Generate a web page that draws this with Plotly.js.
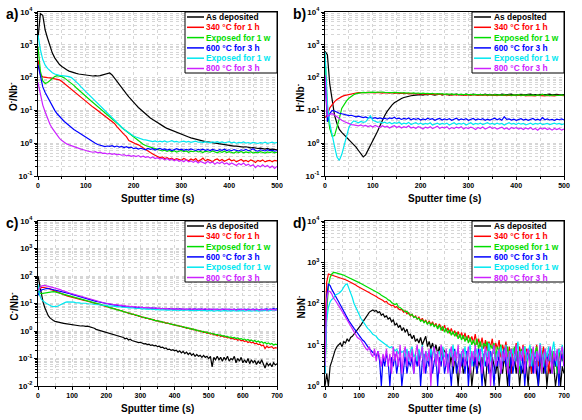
<!DOCTYPE html>
<html>
<head>
<meta charset="utf-8">
<script src="https://cdn.plot.ly/plotly-3.0.1.min.js"></script>
<style>
  html, body { margin: 0; padding: 0; background: #ffffff; }
  #chart { width: 582px; height: 420px; }
</style>
</head>
<body>
<div id="chart"></div>
<script>
// Sputter time axes (s)
const tAB = [0,5,10,15,20,25,30,35,40,45,
  50,55,60,65,70,75,80,85,90,95,
  100,105,110,115,120,125,130,135,140,145,
  150,155,160,165,170,175,180,185,190,195,
  200,205,210,215,220,225,230,235,240,245,
  250,255,260,265,270,275,280,285,290,295,
  300,305,310,315,320,325,330,335,340,345,
  350,355,360,365,370,375,380,385,390,395,
  400,405,410,415,420,425,430,435,440,445,
  450,455,460,465,470,475,480,485,490,495,
  500];
const tCD = [0,5,10,15,20,25,30,35,40,45,
  50,55,60,65,70,75,80,85,90,95,
  100,105,110,115,120,125,130,135,140,145,
  150,155,160,165,170,175,180,185,190,195,
  200,205,210,215,220,225,230,235,240,245,
  250,255,260,265,270,275,280,285,290,295,
  300,305,310,315,320,325,330,335,340,345,
  350,355,360,365,370,375,380,385,390,395,
  400,405,410,415,420,425,430,435,440,445,
  450,455,460,465,470,475,480,485,490,495,
  500,505,510,515,520,525,530,535,540,545,
  550,555,560,565,570,575,580,585,590,595,
  600,605,610,615,620,625,630,635,640,645,
  650,655,660,665,670,675,680,685,690,695,
  700];

// Sample labels
const labelsA = ['As deposited', '340 °C for 1 h', 'Exposed for 1 w', '600 °C for 3 h', 'Exposed for 1 w', '800 °C for 3 h'];
const labelsB = ['As deposlted', '340 °C for 1 h', 'Exposed for 1 w', '600 °C for 3 h', 'Exposed for 1 w', '800 °C for 3 h'];
const seriesColors = ['#000000', '#ff0000', '#00dd00', '#0000ff', '#00e8f0', '#cc22ff'];

// a) O-/Nb-
const oAsDep = [1580,8900,7900,2820,1580,890,560,400,316,251,
  219,191,174,158,148,141,135,129,126,120,
  117,115,115,112,115,112,115,120,126,132,
  138,120,95,76,60,49,40,32,26,22,
  18.2,14.8,12.3,10.5,8.9,7.6,6.6,5.9,5.25,4.68,
  4.17,3.8,3.39,3.09,2.82,2.63,2.4,2.24,2.09,1.95,
  1.82,1.74,1.62,1.55,1.45,1.38,1.32,1.26,1.23,1.17,
  1.12,1.10,1.07,1.02,1.0,0.98,0.93,0.91,0.89,0.89,
  0.85,0.85,0.81,0.81,0.79,0.79,0.76,0.78,0.74,0.72,
  0.74,0.71,0.69,0.71,0.68,0.66,0.69,0.65,0.66,0.63,
  0.63];
const o340 = [347,126,105,100,100,98,95,91,89,85,
  76,66,58,49,44,38,33,28,24.5,21.9,
  19.1,16.2,14.1,12.6,11.2,9.8,8.9,7.9,6.9,5.9,
  5.1,4.6,4.0,3.2,2.6,2.2,1.86,1.58,1.2,1.12,
  1.0,0.95,0.89,0.79,0.71,0.63,0.58,0.52,0.47,0.43,
  0.39,0.36,0.38,0.34,0.36,0.33,0.35,0.31,0.34,0.32,
  0.30,0.34,0.31,0.29,0.33,0.30,0.34,0.28,0.31,0.35,
  0.29,0.32,0.30,0.27,0.31,0.33,0.29,0.32,0.28,0.30,
  0.33,0.29,0.31,0.27,0.30,0.32,0.28,0.30,0.27,0.31,
  0.29,0.26,0.30,0.28,0.31,0.27,0.29,0.30,0.27,0.30,
  0.29];
const oExp1 = [870,158,79,66,71,83,95,107,115,112,
  107,98,87,76,66,58,49,42,35,30,
  26,23,20,17.4,15.1,13.2,11.5,10.0,8.7,7.4,
  6.5,5.5,4.8,4.1,3.55,3.0,2.63,2.29,2.0,1.74,
  1.51,1.32,1.17,1.05,0.93,0.85,0.79,0.76,0.72,0.69,
  0.66,0.62,0.58,0.61,0.56,0.6,0.55,0.59,0.54,0.57,
  0.6,0.55,0.58,0.53,0.57,0.55,0.59,0.54,0.56,0.52,
  0.57,0.55,0.53,0.58,0.54,0.51,0.56,0.53,0.57,0.52,
  0.55,0.53,0.5,0.55,0.52,0.56,0.51,0.54,0.52,0.55,
  0.5,0.53,0.51,0.55,0.52,0.5,0.54,0.52,0.55,0.51,
  0.53];
const o600 = [250,100,52,35,25,17.8,13.2,10.0,7.9,6.5,
  5.4,4.6,4.0,3.4,2.95,2.63,2.34,2.09,1.86,1.66,
  1.48,1.32,1.2,1.1,1.0,0.91,0.87,0.83,0.79,0.82,
  0.8,0.84,0.78,0.82,0.76,0.8,0.74,0.78,0.72,0.76,
  0.68,0.72,0.66,0.7,0.67,0.63,0.69,0.65,0.68,0.62,
  0.66,0.7,0.64,0.67,0.62,0.66,0.6,0.65,0.68,0.63,
  0.66,0.61,0.65,0.62,0.67,0.63,0.6,0.65,0.62,0.66,
  0.61,0.64,0.6,0.65,0.62,0.59,0.64,0.61,0.66,0.6,
  0.63,0.59,0.64,0.61,0.58,0.63,0.6,0.65,0.59,0.62,
  0.68,0.6,0.57,0.63,0.6,0.58,0.63,0.59,0.61,0.57,
  0.6];
const oExp2 = [2000,710,355,240,191,158,141,129,120,117,
  115,112,112,107,100,87,74,63,52,44,
  36,31,27,23,19.5,16.6,14.1,11.7,9.8,8.3,
  7.1,6.0,5.0,4.2,3.55,3.0,2.63,2.34,2.04,1.82,
  1.66,1.55,1.45,1.35,1.29,1.26,1.23,1.2,1.12,1.18,
  1.09,1.15,1.1,1.17,1.08,1.13,1.19,1.1,1.14,1.07,
  1.12,1.16,1.08,1.13,1.06,1.11,1.15,1.07,1.1,1.05,
  1.12,1.08,1.03,1.1,1.06,1.12,1.04,1.09,1.02,1.07,
  1.11,1.03,1.08,1.0,1.06,1.02,1.09,1.01,1.05,0.99,
  1.06,1.02,0.98,1.04,1.0,1.07,0.99,1.03,1.08,1.01,
  1.05];
const o800 = [71,28,14.5,8.9,5.6,3.8,2.82,2.19,1.74,1.41,
  1.2,1.05,0.95,0.89,0.83,0.79,0.74,0.71,0.66,0.63,
  0.59,0.57,0.55,0.53,0.55,0.51,0.53,0.49,0.5,0.47,
  0.49,0.46,0.48,0.44,0.46,0.43,0.45,0.41,0.43,0.4,
  0.42,0.39,0.42,0.38,0.4,0.37,0.39,0.35,0.38,0.34,
  0.36,0.33,0.35,0.31,0.34,0.3,0.33,0.29,0.32,0.28,
  0.3,0.27,0.31,0.27,0.29,0.26,0.29,0.25,0.28,0.26,
  0.24,0.28,0.25,0.27,0.23,0.26,0.24,0.27,0.23,0.25,
  0.22,0.25,0.23,0.21,0.24,0.22,0.25,0.21,0.23,0.2,
  0.22,0.18,0.21,0.19,0.22,0.19,0.21,0.18,0.2,0.17,
  0.2];

// b) H-/Nb-
const hAsDep = [630,500,63,17.8,7.1,4.0,2.63,2.14,1.82,1.51,
  1.32,1.12,0.93,0.76,0.6,0.48,0.38,0.44,0.6,0.89,
  1.2,1.6,2.3,3.4,5.0,7.0,9.3,11.8,14.5,17.0,
  19.0,21.2,23.0,24.8,26.2,27.3,28.0,28.8,29.3,29.5,
  30.2,29.2,30.9,29.8,31.2,30.0,29.1,30.6,31.5,29.6,
  30.4,31.0,29.4,30.8,30.1,31.6,29.9,30.5,29.3,31.1,
  30.3,29.7,31.4,30.2,29.5,30.9,30.0,31.3,29.8,30.6,
  29.4,31.0,30.2,29.6,31.5,30.1,29.7,30.8,31.2,29.5,
  30.4,29.9,31.1,30.3,29.6,30.7,31.4,29.8,30.5,29.3,
  31.0,30.2,29.9,30.8,31.3,29.7,30.4,31.0,29.6,30.5,
  30.1];
const h340 = [6.0,7.2,12.0,15.5,18.6,21.4,24.0,26.3,28.2,29.5,
  30.9,32.0,33.0,33.9,34.7,34.2,35.5,34.8,35.6,34.5,
  35.2,34.1,35.4,34.6,33.8,35.0,34.2,33.5,34.6,33.2,
  34.0,32.8,33.6,32.4,33.3,32.0,32.9,31.8,32.7,31.5,
  32.4,31.2,32.0,30.8,31.9,30.6,31.5,30.2,31.4,29.9,
  31.0,29.6,30.8,29.4,30.6,29.2,30.5,29.0,30.3,28.9,
  30.1,28.8,30.0,29.1,28.5,29.8,28.7,29.6,28.4,29.5,
  28.6,29.3,28.2,29.4,28.5,29.2,28.0,29.3,28.4,29.1,
  28.1,29.0,28.3,29.2,27.9,28.8,28.2,29.1,27.8,28.9,
  28.1,28.7,27.7,28.8,28.0,28.6,27.6,28.7,27.9,28.5,
  28.2];
const hExp1 = [500,10,2.8,1.62,1.7,3.0,5.6,11.5,15.5,19.5,
  23.4,27.5,30.2,32.4,33.9,34.7,35.5,35.0,36.0,35.2,
  36.3,35.5,36.0,35.1,36.4,35.4,34.7,35.8,34.9,35.6,
  34.6,35.2,34.0,34.8,33.7,34.5,33.3,34.2,33.0,33.9,
  32.6,33.5,32.3,33.2,31.9,32.8,31.6,32.6,31.4,32.3,
  31.0,32.0,30.7,31.8,30.5,31.6,30.2,31.4,30.0,31.2,
  29.8,30.9,29.6,30.8,29.5,30.6,29.3,30.5,29.2,30.4,
  29.0,30.3,29.1,30.2,28.9,30.1,29.0,30.0,28.8,29.9,
  28.7,30.4,28.9,29.7,28.6,29.8,28.8,29.6,28.5,29.8,
  28.7,31.0,28.6,29.7,28.4,29.5,28.8,29.4,28.5,29.6,
  29.0];
const h600 = [100,4.5,8.0,10.0,9.6,8.7,8.2,7.9,7.5,7.2,
  6.9,7.1,6.6,6.4,6.7,6.2,6.0,6.3,5.8,6.1,
  5.7,6.0,5.6,5.9,5.5,5.8,5.4,5.9,5.6,6.2,
  5.5,5.8,5.3,5.7,5.4,5.9,5.2,5.6,5.3,5.7,
  5.1,5.5,5.2,5.8,5.3,5.6,5.0,5.4,5.7,5.1,
  5.5,5.2,5.6,5.0,5.4,5.8,5.1,5.5,5.2,5.6,
  5.0,5.4,5.7,5.1,5.5,5.2,5.6,5.0,5.4,5.1,
  5.5,5.8,5.2,5.6,5.0,6.4,5.3,5.5,5.1,5.4,
  5.0,5.3,5.6,5.1,5.4,5.0,5.3,5.7,5.1,5.4,
  5.0,6.0,5.2,5.5,5.1,5.3,5.0,5.4,5.2,5.5,
  5.1];
const hExp2 = [600,16,4.0,1.6,0.8,0.38,0.3,0.45,0.9,1.8,
  3.0,4.0,4.8,4.5,4.2,4.6,4.3,4.5,5.5,6.8,
  5.0,4.6,4.3,4.5,4.1,4.4,4.0,4.3,3.9,4.2,
  4.0,4.4,3.8,4.1,3.9,4.3,3.7,4.0,4.2,3.8,
  4.1,3.7,4.0,3.8,4.2,3.6,3.9,4.1,3.7,4.0,
  3.8,4.1,3.6,3.9,4.2,3.7,4.0,3.8,4.1,3.6,
  3.9,4.2,3.7,4.0,3.8,4.1,3.7,3.9,4.2,3.8,
  4.0,3.7,4.1,3.8,4.0,3.6,3.9,4.2,3.8,4.0,
  3.7,4.1,3.8,4.0,3.6,3.9,4.1,3.7,4.0,3.8,
  4.1,3.7,3.9,4.0,3.7,3.9,4.1,3.8,4.0,3.7,
  3.9];
const h800 = [120,6.5,7.5,7.9,7.2,6.3,5.6,5.0,4.6,4.2,
  3.9,3.7,3.6,3.5,3.4,3.6,3.3,3.5,3.2,3.4,
  3.1,3.5,3.3,3.0,3.4,3.1,3.3,2.9,3.2,3.4,
  3.0,3.3,2.9,3.2,3.0,3.4,2.9,3.1,2.8,3.2,
  3.0,2.7,3.1,2.9,3.2,2.8,3.0,3.3,2.8,3.1,
  2.9,3.2,2.7,3.0,2.8,3.1,2.9,3.2,2.7,3.0,
  2.8,3.1,2.9,2.6,3.0,2.8,3.1,2.7,2.9,3.2,
  2.8,3.0,2.7,2.9,3.1,2.7,2.9,2.6,3.0,2.8,
  3.0,2.7,2.9,2.6,2.9,2.7,3.0,2.6,2.8,2.5,
  2.9,2.7,2.9,2.6,2.8,2.5,2.8,2.6,2.8,2.5,
  2.7];

// c) C-/Nb-
const cAsDep = [100,45,20,11,7.0,4.8,3.6,3.0,2.6,2.4,
  2.25,2.15,2.1,2.0,1.95,1.9,1.86,1.82,1.76,1.72,
  1.66,1.62,1.6,1.56,1.58,1.52,1.55,1.5,1.48,1.5,
  1.45,1.38,1.32,1.26,1.15,1.1,1.06,1.02,0.98,0.95,
  0.93,0.88,0.85,0.8,0.78,0.73,0.71,0.66,0.65,0.6,
  0.58,0.52,0.55,0.47,0.5,0.45,0.43,0.41,0.4,0.38,
  0.39,0.36,0.34,0.35,0.32,0.33,0.3,0.31,0.29,0.3,
  0.27,0.28,0.25,0.26,0.23,0.24,0.21,0.22,0.2,0.21,
  0.19,0.2,0.17,0.19,0.16,0.18,0.15,0.17,0.14,0.16,
  0.13,0.15,0.12,0.14,0.12,0.13,0.11,0.13,0.11,0.12,
  0.1,0.12,0.05,0.11,0.09,0.12,0.09,0.11,0.08,0.11,
  0.09,0.12,0.08,0.1,0.09,0.12,0.07,0.1,0.08,0.11,
  0.07,0.09,0.07,0.1,0.065,0.09,0.07,0.085,0.06,0.08,
  0.065,0.09,0.06,0.045,0.07,0.055,0.065,0.05,0.07,0.058,
  0.065];
const c340 = [32,36,38,39,38,37,36,34,32,30,
  28,26.5,25,23.5,22,21,20,19,18.2,17.4,
  17.0,16.2,15.8,15.0,14.8,14.1,13.5,13.0,12.6,12.1,
  11.7,11.3,11.0,10.6,10.2,9.8,9.3,9.0,8.7,8.3,
  8.0,7.5,7.3,6.8,6.7,6.2,6.1,5.7,5.7,5.3,
  5.2,4.8,4.8,4.4,4.5,4.0,4.1,3.7,3.8,3.4,
  3.5,3.1,3.2,2.9,2.95,2.72,2.75,2.52,2.58,2.33,
  2.4,2.2,2.24,2.04,2.1,1.9,1.96,1.8,1.83,1.67,
  1.71,1.56,1.6,1.46,1.5,1.35,1.39,1.26,1.3,1.17,
  1.21,1.1,1.14,1.01,1.06,0.95,0.99,0.88,0.92,0.83,
  0.86,0.77,0.81,0.72,0.75,0.67,0.7,0.64,0.66,0.6,
  0.62,0.56,0.58,0.53,0.55,0.5,0.52,0.46,0.49,0.44,
  0.46,0.41,0.44,0.38,0.41,0.37,0.39,0.34,0.36,0.32,
  0.33,0.29,0.31,0.23,0.28,0.25,0.26,0.27,0.23,0.25,
  0.24];
const cExp1 = [28,24,23,23.5,24,25,26,26.5,27,27,
  26.5,25.5,24.5,23.5,22.3,21.2,20.2,19.3,18.5,17.8,
  17.1,16.5,15.7,15.2,14.6,14.2,13.6,13.2,12.5,12.2,
  11.6,11.4,10.9,10.7,10.1,9.9,9.4,9.1,8.6,8.4,
  7.8,7.7,7.1,7.0,6.5,6.4,5.9,5.9,5.5,5.5,
  5.0,5.0,4.6,4.6,4.3,4.2,3.9,3.9,3.6,3.6,
  3.3,3.3,3.05,3.05,2.85,2.85,2.65,2.65,2.45,2.45,
  2.3,2.3,2.15,2.15,2.0,2.0,1.88,1.88,1.75,1.76,
  1.63,1.65,1.52,1.55,1.43,1.45,1.33,1.36,1.24,1.27,
  1.15,1.19,1.08,1.1,1.0,1.04,0.94,0.97,0.88,0.92,
  0.82,0.86,0.78,0.8,0.73,0.76,0.69,0.72,0.65,0.68,
  0.62,0.64,0.58,0.61,0.56,0.58,0.53,0.56,0.51,0.53,
  0.49,0.51,0.46,0.49,0.44,0.47,0.42,0.45,0.4,0.43,
  0.38,0.41,0.36,0.39,0.34,0.37,0.33,0.35,0.31,0.33,
  0.32];
const c600 = [20,27,31,33,34,35,35,34,33,32,
  31,30,29,28,27,26,25,24.5,23.5,22.5,
  21.5,21,20,19,18.2,17.5,16.8,16.0,15.3,14.8,
  14.0,13.6,13.0,12.5,12.0,11.6,11.2,10.8,10.5,10.1,
  9.9,9.6,9.4,9.1,8.9,8.8,8.5,8.3,8.2,8.0,
  7.9,7.7,7.8,7.5,7.4,7.6,7.2,7.4,7.1,7.3,
  7.0,7.2,6.9,7.1,6.8,7.0,6.7,6.9,6.6,6.8,
  6.5,6.7,6.4,6.6,6.3,6.5,6.3,6.5,6.2,6.4,
  6.1,6.4,6.2,6.5,6.1,6.3,6.0,6.3,6.1,6.4,
  6.0,6.2,6.4,6.0,6.3,6.1,6.4,5.9,6.2,6.0,
  6.3,6.1,5.9,6.3,6.0,6.2,5.9,6.1,6.3,5.9,
  6.2,6.0,6.3,5.9,6.1,6.3,5.9,6.2,6.0,6.2,
  5.9,6.3,6.0,6.2,5.9,6.1,6.3,6.0,6.2,5.9,
  6.1,6.3,6.0,6.2,6.4,6.0,6.3,6.1,6.6,6.2,
  6.5];
const cExp2 = [50,20,14,12,11,10,9.2,8.5,8.0,7.7,
  7.6,7.8,8.3,9.0,9.8,10.5,11.0,11.4,11.5,11.2,
  11.0,11.2,10.8,10.9,10.6,10.4,10.5,10.1,10.2,9.8,
  9.9,9.5,9.6,9.2,9.3,9.0,9.0,8.7,8.8,8.5,
  8.5,8.2,8.3,8.0,8.0,7.8,7.8,7.5,7.6,7.3,
  7.4,7.1,7.2,6.9,7.0,6.8,6.9,6.6,6.7,6.5,
  6.6,6.3,6.5,6.2,6.4,6.1,6.3,6.0,6.2,5.9,
  6.1,5.9,6.0,5.8,6.0,5.7,5.9,5.7,5.9,5.6,
  5.8,5.6,5.8,5.5,5.8,5.6,5.7,5.5,5.8,5.5,
  5.7,5.4,5.7,5.5,5.6,5.4,5.7,5.5,5.6,5.3,
  5.6,5.4,5.6,5.3,5.5,5.4,5.6,5.3,5.5,5.4,
  5.6,5.3,5.5,5.3,5.6,5.4,5.5,5.3,5.5,5.4,
  5.6,5.3,5.5,5.4,5.6,5.3,5.5,5.4,5.6,5.3,
  5.5,5.4,5.6,5.5,5.7,5.4,5.6,5.5,5.8,5.6,
  5.9];
const c800 = [30,38,43,45,46,44,43,41,39,38,
  36,35,33,32,30,29,27,26,24.5,23.5,
  22.5,21.5,20.5,19.5,18.5,18.0,17.0,16.2,15.5,15.0,
  14.3,13.8,13.2,12.8,12.2,11.8,11.5,11.0,10.7,10.4,
  10.2,9.9,10.0,9.5,9.3,9.0,9.1,8.7,8.5,8.7,
  8.2,8.3,7.9,8.1,7.7,7.9,7.5,7.7,7.3,7.6,
  7.2,7.4,7.0,7.3,6.9,7.2,6.8,7.0,6.6,6.9,
  6.5,6.8,6.4,6.7,6.3,6.6,6.4,6.2,6.6,6.3,
  6.5,6.1,6.4,6.2,6.5,6.1,6.4,6.0,6.3,6.5,
  6.1,6.4,6.0,6.3,6.1,6.4,6.0,6.2,6.5,6.0,
  6.3,6.1,6.4,5.9,6.2,6.0,6.3,5.9,6.2,6.4,
  6.0,6.2,5.9,6.3,6.0,6.2,5.8,6.1,6.3,5.9,
  6.2,6.0,5.8,6.1,6.3,5.9,6.1,5.8,6.2,6.0,
  5.8,6.1,5.9,6.2,5.8,6.0,6.2,5.9,6.1,5.8,
  6.0];

// d) NbN-
const nAsDep = [1,2,1,3,4,6,7.5,9,10,11,
  9,12,11,14,12,15,16,18,21,24,
  27,30,35,40,47,55,62,66,70,65,
  68,60,63,52,56,47,50,42,45,36,
  40,30,33,26,30,22,26,20,24,17,
  18,14,17,12,14,11,15,10,13,16,
  9,12,8,11,7,10,6,9,5,8,
  7,6,4,3,6,2,5,3,1,4,
  6,2,3,5,2,4,1,3,6,2,
  4,3,5,2,1,4,3,2,5,3,
  2,4,1,3,2,5,3,1,4,2,
  3,5,2,4,1,3,2,4,3,1,
  5,2,3,4,2,1,3,5,2,4,
  1,3,2,4,3,1,2,4,1,3,
  2];
const n340 = [25,330,520,505,490,478,465,452,440,425,
  410,392,378,360,345,325,312,295,280,262,
  250,240,228,215,205,192,182,172,165,155,
  148,138,132,122,118,108,112,98,95,88,
  92,80,84,74,70,72,62,66,56,60,
  50,55,46,50,42,47,38,44,35,40,
  32,38,30,36,28,33,25,32,27,22,
  30,21,26,19,25,18,22,16,21,15,
  20,14,19,13,17,12,16,11,18,10,
  14,9,15,8,13,7,12,9,14,6,
  11,8,13,5,10,7,12,4,9,2,
  8,6,11,3,9,5,10,4,8,6,
  9,2,7,5,10,3,7,5,9,3,
  6,2,8,4,7,3,6,8,4,6,
  5];
const nExp1 = [2,60,260,430,520,565,560,550,535,520,
  500,485,465,447,430,410,392,372,352,338,
  320,305,290,275,262,250,238,225,212,200,
  195,180,172,158,150,138,135,122,118,106,
  100,94,100,82,80,72,68,63,65,56,
  52,55,46,48,42,44,37,40,34,38,
  31,36,29,33,27,31,24,30,22,28,
  20,25,19,23,17,21,16,20,14,18,
  13,17,12,16,11,15,10,13,9,14,
  8,12,7,11,9,12,6,10,8,11,
  5,9,7,10,4,8,6,9,3,8,
  6,9,4,7,2,8,5,9,3,7,
  5,8,3,6,9,4,7,2,6,8,
  3,6,4,7,3,6,2,5,7,4,
  6];
const n600 = [2,150,300,270,220,180,150,130,110,91,
  80,68,55,44,38,33,28,25,22,19,
  17,14.5,13,12,10,9,8,7,6.5,6,
  5,7,4,1,5,3,6,4,1,5,
  3,6,2,4,5,1,3,6,2,4,
  3,5,2,5,3,7,1,4,6,2,
  5,3,8,2,4,6,1,5,3,7,
  2,4,6,3,1,5,8,2,4,6,
  3,5,2,7,1,4,6,3,5,2,
  8,4,1,6,3,5,2,7,4,1,
  5,3,6,2,4,8,3,5,1,6,
  2,4,7,3,5,2,6,1,4,8,
  3,5,2,6,4,1,7,3,5,2,
  6,4,8,2,5,3,7,1,4,6,
  3];
const nExp2 = [2,40,80,110,125,135,160,165,175,190,
  210,250,285,300,240,180,140,100,80,65,
  50,44,38,33,28,25,23,20,18,17,
  16,14,13,12,11,10.5,10,9,8.5,9,
  8.3,7,8,6,7.5,6.5,7,5,8,4,
  7,9,5,6,4,8,5,10,3,7,
  6,4,8,5,9,3,6,7,4,9,
  5,6,3,8,5,10,4,6,8,3,
  7,5,9,4,6,10,3,7,5,8,
  4,6,9,3,7,5,11,4,6,8,
  3,7,5,9,4,6,10,3,7,5,
  8,4,6,12,3,7,5,9,4,6,
  10,3,8,5,7,4,11,6,3,8,
  5,9,4,7,12,5,3,8,6,10,
  5];
const n800 = [3,130,200,195,170,135,120,105,88,76,
  65,55,46,40,33,28,24,21,18,15,
  14,13,11,9,8,7.4,9,6,5.1,8,
  4,7,5,3,6,4,8,3,6,2,
  9,4,7,3,10,2,6,9,3,7,
  4,8,2,6,10,3,5,9,2,7,
  4,8,1,6,9,3,7,2,10,5,
  3,8,2,6,9,3,7,4,10,2,
  6,8,3,5,9,2,7,4,10,3,
  6,8,2,5,9,3,7,1,6,10,
  3,5,8,2,7,4,9,2,6,8,
  3,5,10,2,7,4,9,2,6,8,
  3,5,9,2,7,4,10,2,6,8,
  3,5,9,2,7,4,8,2,6,9,
  3];

const FONT = 'Arial, "Liberation Sans", Helvetica, sans-serif';
const W = 582, H = 420;
const px = v => v / W;          // horizontal pixel -> paper
const py = v => 1 - v / H;      // vertical pixel -> paper

// Plot boxes in pixels: [left, right, top, bottom]
const boxes = {
  a: [38, 277, 12, 176],
  b: [325, 564, 12, 176],
  c: [38, 277, 221, 386],
  d: [325, 564, 221, 386]
};

const panels = [
  { key: 'a', xa: 'x',  ya: 'y',  t: tAB, xmax: 500, ylog: [-1, 4], data: [oAsDep, o340, oExp1, o600, oExp2, o800], labels: labelsA,
    ytitle: 'O<sup>-</sup>/Nb<sup>-</sup>', tag: 'a)' },
  { key: 'b', xa: 'x2', ya: 'y2', t: tAB, xmax: 500, ylog: [-1, 4], data: [hAsDep, h340, hExp1, h600, hExp2, h800], labels: labelsB,
    ytitle: 'H<sup>-</sup>/Nb<sup>-</sup>', tag: 'b)' },
  { key: 'c', xa: 'x3', ya: 'y3', t: tCD, xmax: 700, ylog: [-2, 4], data: [cAsDep, c340, cExp1, c600, cExp2, c800], labels: labelsA,
    ytitle: 'C<sup>-</sup>/Nb<sup>-</sup>', tag: 'c)' },
  { key: 'd', xa: 'x4', ya: 'y4', t: tCD, xmax: 700, ylog: [0, 4], data: [nAsDep, n340, nExp1, n600, nExp2, n800], labels: labelsA,
    ytitle: 'NbN<sup>-</sup>', tag: 'd)' }
];

const traces = [];
const layout = {
  width: W, height: H,
  margin: { l: 0, r: 0, t: 0, b: 0 },
  paper_bgcolor: '#ffffff',
  plot_bgcolor: '#ffffff',
  showlegend: false,
  font: { family: FONT, color: '#000000' },
  shapes: [],
  annotations: []
};

const gridCol = '#d6d6d6';

panels.forEach(p => {
  const [l, r, t, b] = boxes[p.key];
  const xName = p.xa === 'x' ? 'xaxis' : 'xaxis' + p.xa.slice(1);
  const yName = p.ya === 'y' ? 'yaxis' : 'yaxis' + p.ya.slice(1);

  // log ticks, one per decade, plus 2..9 minor positions
  const majors = [], labels = [], minors = [];
  for (let e = p.ylog[0]; e <= p.ylog[1]; e++) {
    majors.push(Math.pow(10, e));
    labels.push('<b>10<sup>' + e + '</sup></b>');
    if (e < p.ylog[1]) for (let m = 2; m <= 9; m++) minors.push(m * Math.pow(10, e));
  }

  layout[xName] = {
    domain: [px(l), px(r)], anchor: p.ya, range: [0, p.xmax],
    tick0: 0, dtick: 100, ticks: 'outside', ticklen: 3, tickcolor: '#000', tickwidth: 1,
    showline: true, linecolor: '#000', linewidth: 1, mirror: true, zeroline: false,
    showgrid: true, gridcolor: gridCol, griddash: 'dot', gridwidth: 1,
    minor: { dtick: 50, showgrid: true, gridcolor: gridCol, griddash: 'dot', ticks: 'outside', ticklen: 2, tickcolor: '#000' },
    tickfont: { family: FONT, size: 7, color: '#000', weight: 'bold' }
  };
  layout[yName] = {
    domain: [py(b), py(t)], anchor: p.xa, type: 'log', range: p.ylog,
    tickmode: 'array', tickvals: majors, ticktext: labels,
    ticks: 'outside', ticklen: 3, tickcolor: '#000', tickwidth: 1,
    showline: true, linecolor: '#000', linewidth: 1, mirror: true, zeroline: false,
    showgrid: true, gridcolor: gridCol, griddash: 'dot', gridwidth: 1,
    minor: { tickmode: 'array', tickvals: minors, showgrid: true, gridcolor: gridCol, griddash: 'dot', ticks: 'outside', ticklen: 2, tickcolor: '#000' },
    tickfont: { family: FONT, size: 8, color: '#000' }
  };

  p.data.forEach((ys, i) => {
    traces.push({
      type: 'scatter', mode: 'lines', x: p.t, y: ys,
      xaxis: p.xa, yaxis: p.ya,
      line: { color: seriesColors[i], width: 1.2 },
      hoverinfo: 'skip'
    });
  });

  // axis titles and panel tag
  layout.annotations.push({
    xref: 'paper', yref: 'paper', x: px((l + r) / 2), y: py(b + 22), xanchor: 'center', yanchor: 'middle',
    text: '<b>Sputter time (s)</b>', showarrow: false, font: { family: FONT, size: 10, color: '#000' }
  });
  layout.annotations.push({
    xref: 'paper', yref: 'paper', x: px(l - 25), y: py((t + b) / 2 + 3), xanchor: 'center', yanchor: 'middle',
    text: '<b>' + p.ytitle + '</b>', textangle: -90, showarrow: false, font: { family: FONT, size: 10, color: '#000' }
  });
  layout.annotations.push({
    xref: 'paper', yref: 'paper', x: px(l - 26), y: py(t + 2), xanchor: 'center', yanchor: 'middle',
    text: '<b>' + p.tag + '</b>', showarrow: false, font: { family: FONT, size: 14, color: '#000' }
  });

  // framed key in the top-right corner
  const lw = 92, lh = 61;
  const x0 = r - lw, y0 = t;
  layout.shapes.push({
    type: 'rect', xref: 'paper', yref: 'paper', x0: px(x0), x1: px(r), y0: py(y0), y1: py(y0 + lh),
    line: { color: '#000', width: 1 }, fillcolor: '#ffffff', layer: 'above'
  });
  p.labels.forEach((lab, i) => {
    const yy = y0 + 5 + i * 10.3;
    layout.shapes.push({
      type: 'line', xref: 'paper', yref: 'paper', x0: px(x0 + 2), x1: px(x0 + 19), y0: py(yy), y1: py(yy),
      line: { color: seriesColors[i], width: 1.5 }, layer: 'above'
    });
    layout.annotations.push({
      xref: 'paper', yref: 'paper', x: px(x0 + 19.5), y: py(yy), xanchor: 'left', yanchor: 'middle',
      text: '<b>' + lab + '</b>', showarrow: false, font: { family: FONT, size: 8.4, color: seriesColors[i] }
    });
  });
});

Plotly.newPlot('chart', traces, layout, { staticPlot: true, displayModeBar: false });
</script>
</body>
</html>
